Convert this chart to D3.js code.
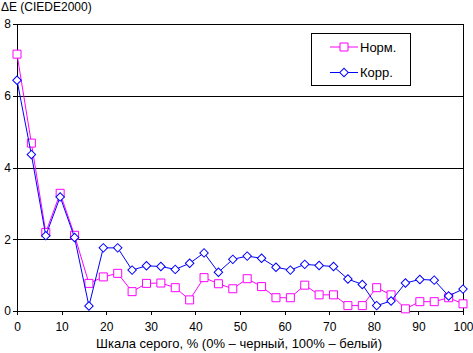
<!DOCTYPE html>
<html>
<head>
<meta charset="utf-8">
<script src="https://cdn.jsdelivr.net/npm/d3@7"></script>
<style>
  body { margin: 0; background: #fff; }
  text { font-family: "Liberation Sans", Arial, sans-serif; font-size: 12px; fill: #000; }
</style>
</head>
<body>
<div id="chart"></div>
<script>
// gray levels, % (32 steps from black to white)
const grayLevels = d3.range(32).map(i => i * 100 / 31)

// ΔE values
const normValues = [7.16, 4.68, 2.19, 3.28, 2.11, 0.77, 0.95, 1.05, 0.54, 0.77, 0.78, 0.65, 0.31, 0.93, 0.76, 0.62,
                    0.90, 0.68, 0.37, 0.37, 0.72, 0.45, 0.45, 0.15, 0.15, 0.65, 0.45, 0.06, 0.26, 0.26, 0.37, 0.20]
const corrValues = [6.43, 4.36, 2.10, 3.18, 2.05, 0.14, 1.76, 1.76, 1.14, 1.26, 1.24, 1.16, 1.33, 1.62, 1.08, 1.44,
                    1.53, 1.47, 1.22, 1.14, 1.30, 1.27, 1.24, 0.89, 0.74, 0.15, 0.28, 0.78, 0.88, 0.86, 0.42, 0.61]

const seriesNames = ["Норм.", "Корр."]
const xTicks = [0, 10, 20, 30, 40, 50, 60, 70, 80, 90, 100]
const yTicks = [0, 2, 4, 6, 8]

const width = 473, height = 353
const margin = {top: 24, right: 10, bottom: 42, left: 17}

const svg = d3.select("#chart").append("svg")
  .attr("width", width)
  .attr("height", height)

const x = d3.scaleLinear().domain([0, 100]).range([margin.left, width - margin.right])
const y = d3.scaleLinear().domain([0, 8]).range([height - margin.bottom, margin.top])

// gridlines
svg.append("g")
  .selectAll("line")
  .data(yTicks.filter(d => d > 0))
  .join("line")
    .attr("x1", x(0) - 4).attr("x2", x(100))
    .attr("y1", d => Math.round(y(d)) + 0.5).attr("y2", d => Math.round(y(d)) + 0.5)
    .attr("stroke", "#000")
    .attr("shape-rendering", "crispEdges")

// right border
svg.append("line")
  .attr("x1", Math.round(x(100)) + 0.5).attr("x2", Math.round(x(100)) + 0.5)
  .attr("y1", y(8)).attr("y2", y(0))
  .attr("stroke", "#000")
  .attr("shape-rendering", "crispEdges")

// axes
const xAxis = svg.append("g")
  .attr("transform", `translate(0,${Math.round(y(0))})`)
  .call(d3.axisBottom(x).tickValues(xTicks).tickSize(4).tickPadding(7))
const yAxis = svg.append("g")
  .attr("transform", `translate(${Math.round(x(0))},0)`)
  .call(d3.axisLeft(y).tickValues(yTicks).tickSize(4).tickPadding(2))

svg.selectAll(".domain, .tick line").attr("stroke", "#000").attr("shape-rendering", "crispEdges")
svg.selectAll(".tick text").style("font-size", "12px").attr("fill", "#000")
  .style("font-family", "'Liberation Sans', Arial, sans-serif")

// titles
svg.append("text").attr("x", 1).attr("y", 11).text("ΔE (CIEDE2000)")
svg.append("text")
  .attr("x", 239).attr("y", 348)
  .attr("text-anchor", "middle")
  .style("font-size", "13px")
  .text("Шкала серого, % (0% – черный, 100% – белый)")

// series
const line = d3.line().x((d, i) => x(grayLevels[i])).y(d => y(d))
const squareSym = d3.symbol().type(d3.symbolSquare).size(64)
const diamondSym = d3.symbol().type(d3.symbolSquare).size(36)

const series = [
  {name: seriesNames[0], values: normValues, color: "#ff00ff", kind: "square"},
  {name: seriesNames[1], values: corrValues, color: "#0000ff", kind: "diamond"}
]

function drawMarker(g, kind, color) {
  if (kind == "square") {
    g.append("path").attr("d", squareSym())
      .attr("fill", "#fff").attr("stroke", color).attr("stroke-width", 1)
  } else {
    g.append("path").attr("d", diamondSym()).attr("transform", "rotate(45)")
      .attr("fill", "#fff").attr("stroke", color).attr("stroke-width", 1)
  }
}

series.forEach(s => {
  svg.append("path")
    .datum(s.values)
    .attr("d", line)
    .attr("fill", "none")
    .attr("stroke", s.color)
    .attr("stroke-width", 1)
  s.values.forEach((v, i) => {
    const g = svg.append("g").attr("transform", `translate(${x(grayLevels[i])},${y(v)})`)
    drawMarker(g, s.kind, s.color)
  })
})

// legend
const legend = svg.append("g")
legend.append("rect")
  .attr("x", 311.5).attr("y", 33.5).attr("width", 99).attr("height", 52)
  .attr("fill", "#fff").attr("stroke", "#000")
series.forEach((s, i) => {
  const ly = 47 + i * 25.5
  legend.append("line")
    .attr("x1", 330).attr("x2", 358).attr("y1", ly).attr("y2", ly)
    .attr("stroke", s.color)
  const g = legend.append("g").attr("transform", `translate(344,${ly})`)
  drawMarker(g, s.kind, s.color)
  legend.append("text").attr("x", 360).attr("y", ly + 4.5)
    .style("font-size", "13px").text(s.name)
})
</script>
</body>
</html>
